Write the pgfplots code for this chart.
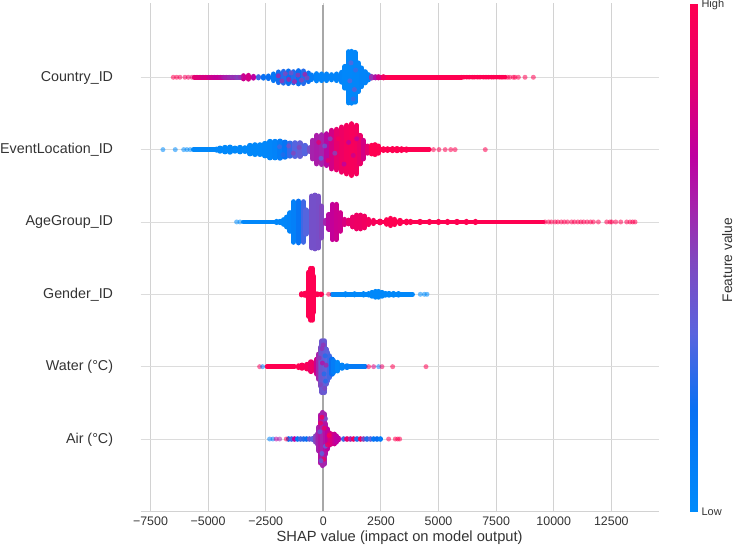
\documentclass[border=0pt]{standalone}
\usepackage{pgfplots}
\pgfplotsset{compat=1.18}
\usepackage{fontspec}
\setmainfont{Liberation Sans}
\definecolor{txt}{HTML}{333333}
\definecolor{gridc}{HTML}{D2D2D2}
\definecolor{gridh}{HTML}{DCDCDC}
\definecolor{zeroc}{HTML}{A8A8A8}
\pgfplotsset{
  colormap={shap}{rgb255(0)=(0,139,251) rgb255(20)=(8,112,243) rgb255(35)=(90,100,222) rgb255(50)=(130,70,190)
    rgb255(60)=(165,35,172) rgb255(70)=(190,0,160) rgb255(85)=(230,0,110) rgb255(100)=(255,0,81)},
  swarm/.style={no marks,forget plot,point meta=explicit,
    quiver={u=0,v=2*\thisrow{h}/72.35,colored=mapped color,
      every arrow/.append style={-,line width=5.2bp,line cap=round}}},
  band/.style={no marks,forget plot,point meta=explicit,
    quiver={u=\thisrow{w},v=0,colored=mapped color,
      every arrow/.append style={-,line width=#1,line cap=round}}},
  band/.default=4.6bp,
  dots/.style={forget plot,scatter,only marks,point meta=explicit,mark=*,mark size=2.5bp,
    scatter/use mapped color={draw opacity=0,fill=mapped color,fill opacity=#1}},
  dots/.default=0.55
}
\begin{document}
\begin{tikzpicture}
\path[use as bounding box] (0,0) rectangle (735bp,545bp);
\begin{axis}[
  at={(140.6bp,33.5bp)},anchor=south west,scale only axis,
  width=518.1bp,height=508.6bp,
  xmin=-7930,xmax=14557,ymin=-1.002,ymax=6.028,
  point meta min=0,point meta max=1,
  axis x line*=bottom,axis y line*=left,
  separate axis lines,
  x axis line style={draw=gridc,line width=1bp,-},
  y axis line style={draw=none,-},
  scaled x ticks=false,
  xtick={-7500,-5000,-2500,0,2500,5000,7500,10000,12500},
  xticklabels={−7500,−5000,−2500,0,2500,5000,7500,10000,12500},
  ytick={0,1,2,3,4,5},
  yticklabels={Air (°C),Water (°C),Gender\_ID,AgeGroup\_ID,EventLocation\_ID,Country\_ID},
  tick style={draw=none},
  major tick length=0pt,
  xmajorgrids,ymajorgrids,
  x grid style={draw=gridc,line width=1.1bp},
  y grid style={draw=gridh,line width=.9bp},
  xticklabel style={font=\fontsize{12.4bp}{14bp}\selectfont,text=txt,yshift=-2bp},
  yticklabel style={font=\fontsize{14.3bp}{16bp}\selectfont,text=txt,xshift=-24bp,yshift=-.5bp},
  xlabel={SHAP value (impact on model output)},
  xlabel style={font=\fontsize{14.7bp}{16bp}\selectfont,text=txt,at={(axis description cs:0.5,0)},anchor=center,yshift=-26bp},
  clip=false
]
\addplot[draw=zeroc,line width=2bp,forget plot] coordinates {(0,-1) (0,6)};

% Country_ID
\addplot[band] table[x=x,y expr=5,meta=c,row sep=\\] {x w c\\
-5600 700 .82\\ -4900 600 .76\\ -4300 500 .62\\ -3800 400 .52\\ 2098 300 .65\\ 2400 300 .85\\ 2700 3300 1\\};
\addplot[band=3.6bp] table[x=x,y expr=5,meta=c,row sep=\\] {x w c\\
6000 1900 1\\};
\addplot[dots] table[meta=c,row sep=\\] {x y c\\
-6512 5 1\\ -6367 5 1\\ -6222 5 .97\\ -6005 5 .95\\ -5860 5 .92\\ -5700 5 .88\\ -5600 5 .85\\ -5480 5 .82\\ -5350 5 .8\\ -5220 5 .75\\ -5100 5 .8\\ -4980 5 .72\\ -4850 5 .76\\ -4730 5 .7\\ -4600 5 .72\\ -4470 5 .66\\ -4340 5 .62\\ -4210 5 .6\\ -4080 5 .55\\ -3950 5 .52\\ -3820 5 .55\\ -3700 5 .5\\ -3600 5 .6\\
6000 5 1\\ 6100 5 1\\ 6230 5 1\\ 6340 5 1\\ 6470 5 1\\ 6560 5 1\\ 6690 5 1\\ 6800 5 1\\ 6950 5 1\\ 7060 5 1\\ 7170 5 1\\ 7300 5 1\\ 7400 5 1\\ 7520 5 1\\ 7640 5 1\\ 7720 5 1\\ 7800 5 1\\ 7900 5 1\\ 8000 5 1\\ 8100 5 1\\ 8250 5 1\\ 8320 5 1\\ 8466 5 1\\ 8755 5 1\\ 9117 5 1\\};
\addplot[swarm] table[x=x,y expr=5-\thisrow{h}/72.35,meta=c,row sep=\\] {x h c\\
-3473 1.5 .75\\ -3256 1.8 .78\\ -3039 .8 .7\\ -2822 .5 .3\\ -2605 .8 .2\\ -2388 1.2 .2\\ -2171 3.2 .15\\ -1954 5.2 .22\\ -1736 5.8 .25\\ -1519 6.2 .2\\ -1302 5.5 .25\\ -1085 6.5 .2\\ -868 6.2 .25\\ -651 4.2 .2\\ -506 2.2 .1\\ -289 3.5 .06\\ -72 3.2 .05\\ 145 3.2 .05\\ 362 2.5 .05\\ 579 3.2 .05\\ 796 4.8 .05\\ 940 10.8 .03\\ 1085 25.5 .03\\ 1230 25.8 .03\\ 1375 24.8 .04\\ 1519 14.2 .04\\ 1664 9.2 .05\\ 1809 5.5 .05\\ 1953 2.5 .06\\ 2098 .8 .55\\ 2250 .5 .65\\ 2400 .5 .78\\ 2600 .5 .92\\};
\addplot[dots=.8] table[meta=c,row sep=\\] {x y c\\
-1950 5.02 .6\\ -1800 4.95 .55\\ -1650 5.05 .5\\ -1500 4.97 .6\\ -1400 5.06 .45\\ -1250 4.94 .6\\ -1100 5.03 .55\\ -950 4.96 .5\\ -800 5.04 .6\\ -700 4.99 .5\\ 1200 5.2 .35\\ 1350 4.83 .4\\ 1150 4.95 .35\\ 1400 5.1 .3\\ 1300 4.7 .3\\};

% EventLocation_ID
\addplot[band] table[x=x,y expr=4,meta=c,row sep=\\] {x w c\\
-5643 1000 .02\\ 2500 2100 1\\};
\addplot[dots] table[meta=c,row sep=\\] {x y c\\
-6960 4 .0\\ -6425 4 .0\\ -6060 4 0\\ -5920 4 0\\ -5780 4 .0\\ 4780 4 1\\ 5020 4 1\\ 5290 4 1\\ 5530 4 1\\ 5720 4 1\\ 7030 4 1\\};
\addplot[swarm] table[x=x,y expr=4-\thisrow{h}/72.35,meta=c,row sep=\\] {x h c\\
-4630 .5 .02\\ -4486 1.5 .02\\ -4269 2.2 .02\\ -4052 2.5 .02\\ -3835 1.5 .02\\ -3618 2.2 .02\\ -3400 1.8 .02\\ -3183 4.2 .02\\ -2966 4.8 .02\\ -2749 4.8 .02\\ -2532 6.2 .03\\ -2315 8.2 .04\\ -2098 8.2 .06\\ -1881 8.5 .1\\ -1664 7.5 .16\\ -1447 6.5 .28\\ -1230 6.8 .34\\ -1013 6.8 .38\\ -796 4.2 .34\\ -608 1.8 .45\\ -463 9.2 .6\\ -289 14.2 .62\\ -72 14.8 .6\\ 145 15.8 .68\\ 362 19.2 .78\\ 579 20.2 .86\\ 796 22.5 .9\\ 1013 24.2 .94\\ 1230 25.8 .95\\ 1447 24.2 .94\\ 1592 14.2 .88\\ 1736 9.2 .78\\ 1910 3.5 .85\\ 2098 4.2 1\\ 2243 4.8 1\\ 2388 3.5 1\\ 2605 .8 1\\ 2800 .8 1\\ 3000 1 1\\ 3200 1 1\\ 3400 .8 1\\ 3600 .6 1\\};
\addplot[dots=.8] table[meta=c,row sep=\\] {x y c\\
-1900 4.04 .3\\ -1750 3.93 .25\\ -1500 4.05 .45\\ -1300 3.95 .5\\ -1050 4.03 .5\\ -200 4.1 .85\\ -100 3.88 .35\\ 60 4.05 .4\\ 200 3.85 .85\\ 300 4.15 .5\\ 500 3.95 .5\\ 650 4.15 .95\\ 900 3.8 .7\\ 1100 4.1 .7\\ 1300 3.92 .75\\ 1450 4.15 .7\\};

% AgeGroup_ID
\addplot[band] table[x=x,y expr=3,meta=c,row sep=\\] {x w c\\
-3473 1600 .03\\ 900 900 .88\\ 1800 900 .96\\ 2700 6850 1\\};
\addplot[dots] table[meta=c,row sep=\\] {x y c\\
-3762 3 .0\\ -3618 3 .0\\ 9623 3 1\\ 9780 3 1\\ 9900 3 1\\ 10060 3 1\\ 10180 3 1\\ 10330 3 1\\ 10460 3 1\\ 10600 3 1\\ 10780 3 1\\ 10900 3 1\\ 11050 3 1\\ 11180 3 1\\ 11300 3 1\\ 11450 3 1\\ 11600 3 1\\ 11721 3 1\\ 11938 3 1\\ 12300 3 1\\ 12445 3 1\\ 12517 3 1\\ 12691 3 1\\ 12908 3 1\\ 13168 3 1\\ 13313 3 1\\ 13429 3 1\\ 13530 3 1\\};
\addplot[swarm] table[x=x,y expr=3-\thisrow{h}/72.35,meta=c,row sep=\\] {x h c\\
-2026 .5 .03\\ -1881 .5 .03\\ -1736 2.2 .03\\ -1592 4.8 .04\\ -1447 9.2 .05\\ -1302 20.2 .08\\ -1085 20.8 .17\\ -868 20.2 .3\\ -750 12 .34\\ -510 25.8 .45\\ -362 26.8 .45\\ -210 25.8 .46\\ -80 15.8 .5\\ 101 1.5 .6\\ 246 7.5 .68\\ 391 17.5 .72\\ 564 17.5 .75\\ 738 9.2 .76\\ 912 2.5 .8\\ 1085 1.8 .85\\ 1273 4.8 .88\\ 1447 6.8 .9\\ 1621 6.8 .9\\ 1794 5.8 .92\\ 1968 2.5 .94\\ 2171 1.5 .96\\ 2460 .8 .98\\ 2749 2.2 1\\ 2923 3.5 1\\ 3097 2.5 1\\ 3328 1.5 1\\ 3618 .8 1\\ 3800 .5 1\\ 4200 .5 1\\ 4600 .5 1\\ 5000 .5 1\\ 5400 .5 1\\ 5800 .5 1\\ 6200 .5 1\\ 6600 .5 1\\};

% Gender_ID
\addplot[band] table[x=x,y expr=2,meta=c,row sep=\\] {x w c\\
376 3500 .02\\};
\addplot[dots] table[meta=c,row sep=\\] {x y c\\
232 2 1\\ 4211 2 0\\ 4385 2 0\\ 4500 2 0\\};
\addplot[swarm] table[x=x,y expr=2-\thisrow{h}/72.35,meta=c,row sep=\\] {x h c\\
-955 .5 1\\ -825 .8 1\\ -700 2 1\\ -630 22 1\\ -550 25.8 1\\ -470 25.8 1\\ -420 18 1\\ -330 .5 1\\ -246 .3 1\\ -101 .2 1\\ 960 .5 .02\\ 1360 .5 .02\\ 1760 .6 .02\\ 1960 .6 .02\\ 2113 1.8 .02\\ 2257 2.8 .02\\ 2402 2.8 .02\\ 2547 1.8 .02\\ 2691 .8 .02\\ 2850 .8 .02\\ 3050 .8 .02\\ 3250 .7 .02\\};

% Water (deg C)
\addplot[band] table[x=x,y expr=1,meta=c,row sep=\\] {x w c\\
-2445 1200 1\\ 1027 800 .12\\};
\addplot[dots] table[meta=c,row sep=\\] {x y c\\
-2764 1 .95\\ -2634 1 .1\\ 1968 1 1\\ 2185 1 .8\\ 2402 1 .1\\ 2547 1 .9\\ 3010 1 1\\ 4457 1 1\\};
\addplot[swarm] table[x=x,y expr=1-\thisrow{h}/72.35,meta=c,row sep=\\] {x h c\\
-1071 .8 1\\ -926 1.5 .97\\ -709 2.2 .95\\ -535 4.8 .9\\ -347 4.2 .88\\ -275 7.5 .75\\ -200 12.5 .6\\ -130 19.2 .5\\ -58 25.8 .42\\ 43 25.8 .4\\ 115 17.5 .38\\ 188 14.2 .35\\ 260 10.8 .3\\ 376 7.5 .2\\ 449 5.8 .1\\ 622 4.2 .03\\ 810 1.5 .05\\ 1027 .8 .08\\};
\addplot[dots=.8] table[meta=c,row sep=\\] {x y c\\
-180 1.12 .55\\ -120 .75 .5\\ -60 1.25 .55\\ 30 .9 .25\\ 80 1.15 .25\\ -40 1.05 .65\\ 100 .8 .25\\ 120 1.02 .6\\ 60 .7 .5\\ 0 1.3 .55\\};

% Air (deg C)
\addplot[dots] table[meta=c,row sep=\\] {x y c\\
-2330 0 .05\\ -2185 0 .1\\ -2040 0 .7\\ -1896 0 .6\\ -1606 0 1\\ 2836 0 1\\ 3125 0 1\\ 3227 0 1\\ 3314 0 1\\};
\addplot[swarm] table[x=x,y expr=0-\thisrow{h}/72.35,meta=c,row sep=\\] {x h c\\
-1505 .2 .2\\ -1375 .2 .3\\ -1245 .2 .7\\ -1115 .2 .15\\ -985 .2 .3\\ -855 .2 .25\\ -725 .2 .2\\ -595 .2 .4\\ -465 .4 .35\\ -347 3 .5\\ -250 5 .55\\ -190 12 .6\\ -120 24 .65\\ -40 26.5 .6\\ 40 25 .6\\ 100 15 .65\\ 170 10 .7\\ 260 6 .75\\ 333 5 .8\\ 478 4.8 .75\\ 560 3 .7\\ 666 .8 .7\\ 883 .2 .3\\ 1028 .2 .85\\ 1173 .2 .6\\ 1318 .2 .9\\ 1463 .2 .25\\ 1608 .2 .9\\ 1753 .2 .5\\ 1898 .2 .25\\ 2043 .2 .35\\ 2188 .2 .15\\ 2333 .2 .2\\ 2474 .2 .1\\};
\addplot[dots=.8] table[meta=c,row sep=\\] {x y c\\
-120 .22 .9\\ -60 -.2 .35\\ 40 .15 .9\\ 90 -.1 .35\\ -150 .1 .4\\ 20 -.28 .9\\ 100 .28 .45\\ 180 -.08 .9\\ 250 .05 .95\\ -100 -.3 .4\\ -60 .3 .95\\};
\end{axis}

\begin{axis}[
  at={(690bp,33.5bp)},anchor=south west,scale only axis,
  width=7bp,height=507bp,
  xmin=0,xmax=1,ymin=0,ymax=1,
  point meta min=0,point meta max=1,
  axis line style={draw=none},
  xtick=\empty,ytick={0,1},yticklabels={Low,High},
  ytick pos=right,yticklabel pos=right,
  tick style={draw=none},major tick length=0pt,
  yticklabel style={font=\fontsize{11bp}{13bp}\selectfont,text=txt,xshift=1bp},
  ylabel={Feature value},
  ylabel style={font=\fontsize{13.8bp}{16bp}\selectfont,text=txt,at={(axis description cs:5.3,0.496)},anchor=center}
]
\addplot[surf,shader=interp,mesh/rows=2,point meta=y,forget plot] coordinates {(0,0) (1,0) (0,1) (1,1)};
\end{axis}
\end{tikzpicture}
\end{document}
